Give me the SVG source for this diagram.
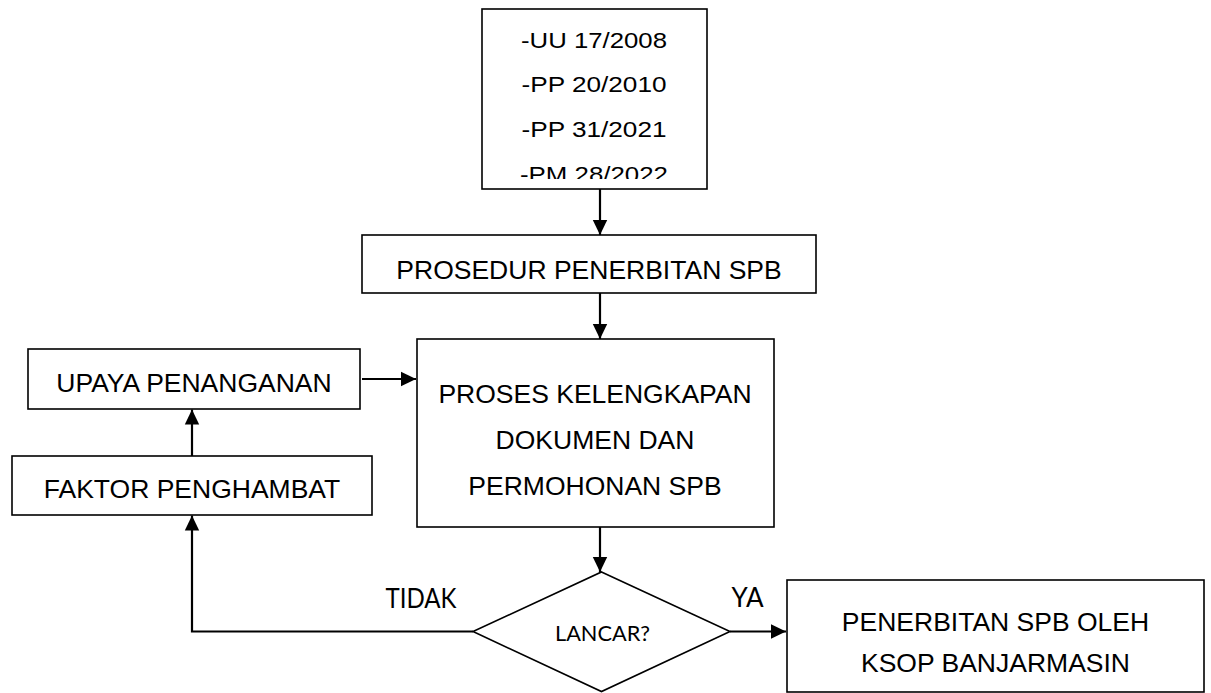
<svg xmlns="http://www.w3.org/2000/svg" width="1211" height="693" viewBox="0 0 1211 693">
  <style>
    .box { fill: #ffffff; stroke: #000000; stroke-width: 1.6; }
    .lbl { font-family: "Liberation Sans", Arial, sans-serif; font-size: 26.5px; fill: #000000; text-anchor: middle; }
    .law { font-family: "Liberation Sans", Arial, sans-serif; font-size: 22px; fill: #000000; text-anchor: middle; }
    .cal { font-family: Lato, "Open Sans", sans-serif; fill: #000000; text-anchor: middle; }
    .conn { fill: none; stroke: #000000; stroke-width: 2.2; }
  </style>
  <defs>
    <marker id="arrow" markerUnits="userSpaceOnUse" markerWidth="16" markerHeight="16" viewBox="0 0 16 16" refX="15" refY="8" orient="auto">
      <path d="M0,0.8 L15,8 L0,15.2 Z" fill="#000000"/>
    </marker>
    <clipPath id="lawClip">
      <rect x="482" y="9" width="225" height="170"/>
    </clipPath>
  </defs>

  <rect x="0" y="0" width="1211" height="693" fill="#ffffff"/>

  <!-- connectors -->
  <g id="connectors">
    <line class="conn" x1="600" y1="189" x2="600" y2="235" marker-end="url(#arrow)"/>
    <line class="conn" x1="600" y1="293" x2="600" y2="339" marker-end="url(#arrow)"/>
    <line class="conn" x1="600" y1="527" x2="600" y2="572" marker-end="url(#arrow)"/>
    <line class="conn" x1="362" y1="379" x2="416" y2="379" marker-end="url(#arrow)"/>
    <line class="conn" x1="192" y1="456" x2="192" y2="409.5" marker-end="url(#arrow)"/>
    <polyline class="conn" points="473,631.5 192,631.5 192,515.5" marker-end="url(#arrow)"/>
    <line class="conn" x1="730" y1="631.5" x2="786" y2="631.5" marker-end="url(#arrow)"/>
    <text class="cal" x="421" y="607.5" font-size="26" textLength="71" lengthAdjust="spacingAndGlyphs">TIDAK</text>
    <text class="cal" x="747.5" y="607" font-size="26" textLength="32" lengthAdjust="spacingAndGlyphs">YA</text>
  </g>

  <!-- regulations -->
  <g id="regulasi">
    <rect class="box" x="482" y="9" width="225" height="180"/>
    <g clip-path="url(#lawClip)">
      <text class="law" x="594" y="47.5" textLength="146" lengthAdjust="spacingAndGlyphs">-UU 17/2008</text>
      <text class="law" x="594" y="91.5" textLength="145" lengthAdjust="spacingAndGlyphs">-PP 20/2010</text>
      <text class="law" x="594" y="137" textLength="145" lengthAdjust="spacingAndGlyphs">-PP 31/2021</text>
      <text class="law" x="594" y="181.5" textLength="148" lengthAdjust="spacingAndGlyphs">-PM 28/2022</text>
    </g>
  </g>

  <g id="prosedur">
    <rect class="box" x="362" y="235" width="454" height="58"/>
    <text class="lbl" x="589" y="279">PROSEDUR PENERBITAN SPB</text>
  </g>

  <g id="proses">
    <rect class="box" x="417" y="339" width="357" height="188"/>
    <text class="lbl" x="595" y="403">PROSES KELENGKAPAN</text>
    <text class="lbl" x="595" y="449">DOKUMEN DAN</text>
    <text class="lbl" x="595" y="495">PERMOHONAN SPB</text>
  </g>

  <g id="upaya">
    <rect class="box" x="28" y="349" width="332" height="60"/>
    <text class="lbl" x="194" y="392">UPAYA PENANGANAN</text>
  </g>

  <g id="faktor">
    <rect class="box" x="12" y="456" width="360" height="59"/>
    <text class="lbl" x="192" y="498">FAKTOR PENGHAMBAT</text>
  </g>

  <g id="lancar">
    <polygon class="box" points="601.5,572 730,631.5 601.5,691.5 473,631.5"/>
    <text class="cal" x="602.5" y="641" font-size="21.5" textLength="95" lengthAdjust="spacingAndGlyphs">LANCAR?</text>
  </g>

  <g id="penerbitan">
    <rect class="box" x="787" y="580" width="417" height="112"/>
    <text class="lbl" x="995.5" y="631">PENERBITAN SPB OLEH</text>
    <text class="lbl" x="995.5" y="672">KSOP BANJARMASIN</text>
  </g>
</svg>
